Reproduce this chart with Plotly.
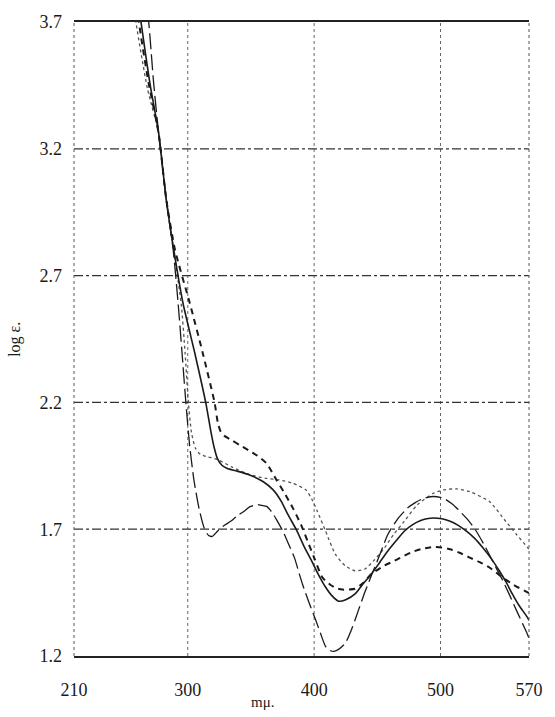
import plotly.graph_objects as go

# ---- data (wavelength in m\u03bc, log epsilon) ----
wl_solid = [259.5, 263, 270, 277, 283, 289, 296.3, 305.6, 314.2, 318.5, 321, 323.5, 327,
            331.3, 339.1, 349.4, 359.8, 367.6, 374.1, 379.3, 385.7, 392.2, 398, 404, 409.1, 414, 419.3, 425,
            432.4, 438, 445.3, 452, 458.3, 465, 471.3, 478, 484.3, 489, 494.6, 501, 507.6, 514, 520.5, 527,
            533.5, 540, 546.5, 552, 556.8, 562, 568.5, 570]
le_solid = [3.85, 3.70, 3.46, 3.26, 3.00, 2.80, 2.59, 2.394, 2.20, 2.08, 2.02, 1.978, 1.952,
            1.939, 1.929, 1.913, 1.887, 1.855, 1.809, 1.757, 1.700, 1.630, 1.575, 1.515, 1.471, 1.438, 1.416, 1.422,
            1.445, 1.480, 1.523, 1.570, 1.614, 1.655, 1.692, 1.718, 1.734, 1.741, 1.744, 1.741, 1.731, 1.715, 1.692, 1.664,
            1.627, 1.585, 1.536, 1.490, 1.445, 1.400, 1.354, 1.34]

wl_dashed = [257.5, 261.3, 269, 277, 283, 290, 301.7, 311.9, 321.2, 323.8, 326, 328.7, 335.2,
             341, 348.2, 355, 362.4, 370.2, 376.6, 383.2, 389.6, 394.8, 400, 406.5, 413, 418, 422.3, 427, 432.4,
             438, 445.3, 455, 463.5, 470, 476.5, 485, 494.6, 501, 507.6, 515, 523.1, 531, 538.7, 549, 558, 568.5, 570]
le_dashed = [3.85, 3.70, 3.46, 3.26, 3.00, 2.80, 2.59, 2.394, 2.20, 2.12, 2.085, 2.069, 2.050,
             2.032, 2.011, 1.990, 1.959, 1.894, 1.842, 1.783, 1.718, 1.653, 1.588, 1.510, 1.480, 1.467, 1.462, 1.462,
             1.465, 1.485, 1.523, 1.555, 1.575, 1.592, 1.608, 1.622, 1.630, 1.628, 1.621, 1.607, 1.588, 1.570, 1.549,
             1.510, 1.48, 1.452, 1.448]

wl_longdash = [266, 269.1, 273, 277, 283, 288.5, 292.4, 295.5, 298.5, 301.5, 305, 309, 313, 316.5,
               319.5, 323.5, 328, 333.9, 339, 344.3, 348.9, 352.1, 355.5, 358.5, 362.4, 365, 367.6, 370.2, 375,
               379.3, 384.4, 388.3, 391, 396, 401.3, 405, 409.1, 412.5, 415.5, 419, 424.6, 430, 435, 440, 445.3,
               452, 458.3, 466, 473.8, 480, 486.8, 494.6, 502.4, 509, 515.4, 522, 528.3, 536, 543.8, 549, 554.2,
               561, 568.5, 570]
le_longdash = [3.82, 3.70, 3.46, 3.26, 3.00, 2.80, 2.59, 2.394, 2.20, 2.03, 1.89, 1.78, 1.705, 1.675,
               1.672, 1.692, 1.712, 1.731, 1.752, 1.770, 1.788, 1.794, 1.797, 1.794, 1.790, 1.777, 1.760, 1.738,
               1.695, 1.647, 1.588, 1.523, 1.48, 1.41, 1.341, 1.29, 1.237, 1.222, 1.218, 1.225, 1.250, 1.31, 1.380,
               1.45, 1.517, 1.60, 1.679, 1.74, 1.783, 1.805, 1.822, 1.829, 1.822, 1.80, 1.770, 1.735, 1.692, 1.625,
               1.549, 1.50, 1.445, 1.37, 1.289, 1.27]

wl_dotted = [255.5, 259, 268, 277, 283, 289, 294.8, 297.9, 300.5, 303, 306, 310, 316, 323.5, 335, 349, 362.4,
             372.7, 383.2, 393.5, 398, 402.6, 409.1, 416.8, 424.6, 432.4, 440.2, 447, 455.7, 463, 471.3, 481.6,
             494.6, 502.4, 512.7, 523.1, 538.7, 551.6, 560, 568.5, 570]
le_dotted = [3.85, 3.70, 3.44, 3.26, 3.00, 2.79, 2.59, 2.394, 2.20, 2.08, 2.02, 1.995, 1.985, 1.975, 1.945, 1.915,
             1.900, 1.894, 1.881, 1.855, 1.82, 1.770, 1.692, 1.601, 1.556, 1.536, 1.543, 1.575, 1.627, 1.68, 1.731,
             1.796, 1.842, 1.855, 1.859, 1.848, 1.809, 1.731, 1.68, 1.63, 1.62]

x_ticks = [210, 300, 400, 500, 570]
y_ticks = [1.2, 1.7, 2.2, 2.7, 3.2, 3.7]
x_grid = [300, 400, 500]
y_grid = [1.7, 2.2, 2.7, 3.2]

SERIF = "Liberation Serif, DejaVu Serif, serif"
INK = "#1a1a1a"

fig = go.Figure()
fig.add_trace(go.Scatter(x=wl_dotted, y=le_dotted, mode="lines",
                         line=dict(color="#555", width=1.3, dash="dot", shape="spline", smoothing=0.6)))
fig.add_trace(go.Scatter(x=wl_longdash, y=le_longdash, mode="lines",
                         line=dict(color=INK, width=1.3, dash="16px,5px", shape="spline", smoothing=0.6)))
fig.add_trace(go.Scatter(x=wl_dashed, y=le_dashed, mode="lines",
                         line=dict(color=INK, width=2, dash="6px,5px", shape="spline", smoothing=0.6)))
fig.add_trace(go.Scatter(x=wl_solid, y=le_solid, mode="lines",
                         line=dict(color=INK, width=1.6, shape="spline", smoothing=0.6)))

# grid lines
for gx in x_grid:
    fig.add_shape(type="line", x0=gx, x1=gx, y0=0, y1=1, xref="x", yref="paper",
                  line=dict(color="#666", width=1, dash="dot"), layer="below")
for gy in y_grid:
    fig.add_shape(type="line", x0=0, x1=1, y0=gy, y1=gy, xref="paper", yref="y",
                  line=dict(color="#333", width=1.2, dash="dashdot"), layer="below")
# frame: left/right dotted
for px in [0, 1]:
    fig.add_shape(type="line", x0=px, x1=px, y0=0, y1=1, xref="paper", yref="paper",
                  line=dict(color="#555", width=1, dash="dot"))

fig.update_layout(
    width=555, height=717,
    margin=dict(l=74, r=20, t=15, b=61),
    paper_bgcolor="white", plot_bgcolor="white",
    showlegend=False,
    font=dict(family=SERIF, color=INK),
)
fig.update_xaxes(range=[210, 570], tickvals=x_ticks, ticktext=[str(v) for v in x_ticks],
                 showgrid=False, zeroline=False, showline=True, mirror=True,
                 linecolor="#222", linewidth=1.5, ticks="", tickfont=dict(size=18, family=SERIF, color=INK),
                 ticklabelstandoff=17)
fig.update_yaxes(range=[1.2, 3.7], tickvals=y_ticks, ticktext=[f"{v:.1f}" for v in y_ticks],
                 showgrid=False, zeroline=False, showline=False, ticks="",
                 tickfont=dict(size=18, family=SERIF, color=INK), ticklabelstandoff=11)

fig.add_annotation(text="log \u03b5.", xref="paper", yref="paper", x=-0.13, y=0.5,
                   textangle=-90, showarrow=False, font=dict(size=16, family=SERIF, color=INK),
                   xanchor="center", yanchor="middle")
fig.add_annotation(text="m\u03bc.", xref="paper", yref="paper", x=0.415, y=-0.073,
                   showarrow=False, font=dict(size=15, family=SERIF, color=INK),
                   xanchor="center", yanchor="middle")

fig.write_html("out.html")
